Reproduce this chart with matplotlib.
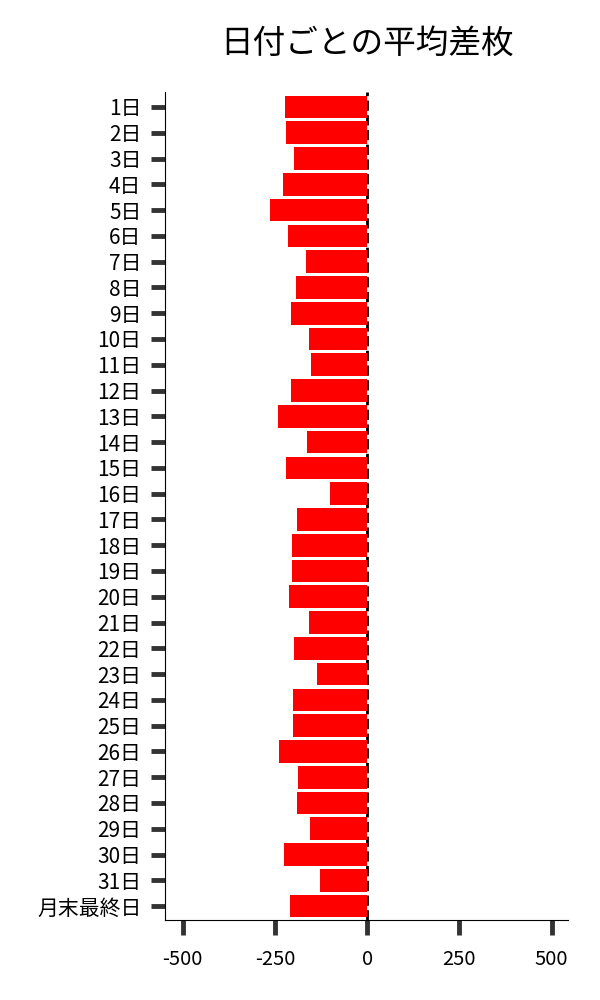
import matplotlib
matplotlib.use("Agg")
import matplotlib.pyplot as plt

plt.rcParams['font.family'] = ['Noto Sans CJK JP', 'DejaVu Sans']

# 日付ラベルと平均差枚
days = [f"{i}日" for i in range(1, 32)] + ["月末最終日"]
diff = [-222, -220, -198, -228, -263, -214, -165, -192, -206, -157,
        -152, -206, -241, -163, -220, -100, -190, -203, -203, -211,
        -157, -198, -136, -200, -200, -238, -187, -190, -154, -225,
        -127, -209]
xticks = [-500, -250, 0, 250, 500]

fig = plt.figure(figsize=(6, 10), dpi=100)
ax = fig.add_axes([0.275, 0.08, 0.672, 0.828])

ypos = list(range(len(days)))
ax.barh(ypos, diff, height=0.88, color='red', zorder=2)
ax.axvline(0, color='black', linestyle='--', linewidth=2, zorder=1)

ax.set_yticks(ypos)
ax.set_yticklabels(days, fontsize=15)
ax.set_ylim(len(days) - 0.46, -0.58)
ax.set_xlim(-548, 545)
ax.set_xticks(xticks)
ax.set_xticklabels([str(v) for v in xticks], fontsize=14.5)

ax.tick_params(axis='y', length=10, width=3.5, color='#333333', pad=7)
ax.tick_params(axis='x', length=11, width=3.5, color='#333333', pad=10)

ax.spines['top'].set_visible(False)
ax.spines['right'].set_visible(False)

ax.set_title('日付ごとの平均差枚', fontsize=23.5, pad=28)

fig.savefig('out.png', dpi=100)
